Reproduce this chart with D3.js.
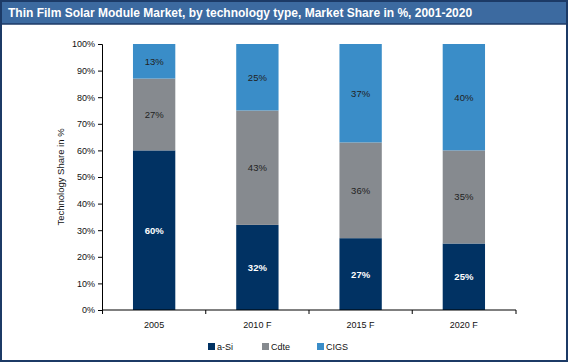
<!DOCTYPE html>
<html><head><meta charset="utf-8">
<script src="https://cdn.jsdelivr.net/npm/d3@7"></script>
<style>
  body { margin: 0; background: #fff; }
  svg { display: block; font-family: Arial, "Liberation Sans", sans-serif; }
</style>
</head>
<body>
<svg id="chart" width="568" height="362"></svg>
<script>
// data
var years = ["2005", "2010 F", "2015 F", "2020 F"];
var techs = ["a-Si", "Cdte", "CIGS"];
var aSi  = [60, 32, 27, 25];
var cdte = [27, 43, 36, 35];
var cigs = [13, 25, 37, 40];
var yTicks = [0, 10, 20, 30, 40, 50, 60, 70, 80, 90, 100];
var colors = ["#013263", "#868a8f", "#3a8dc8"];

var rows = years.map(function(y, i) {
  return {year: y, "a-Si": aSi[i], "Cdte": cdte[i], "CIGS": cigs[i]};
});

var svg = d3.select("#chart");
var W = 568, H = 362;

// frame + title bar
svg.append("rect").attr("x", 0).attr("y", 0).attr("width", W).attr("height", H).attr("fill", "#fff");
svg.append("rect").attr("x", 0).attr("y", 0).attr("width", W).attr("height", 24).attr("fill", "#3c6aa0");
svg.append("rect").attr("x", 1).attr("y", 1).attr("width", W - 2).attr("height", H - 2)
  .attr("fill", "none").attr("stroke", "#1c3a66").attr("stroke-width", 2);
svg.append("line").attr("x1", 0).attr("x2", W).attr("y1", 24).attr("y2", 24)
  .attr("stroke", "#1c3a66").attr("stroke-width", 1.5);
svg.append("text").attr("x", 8).attr("y", 16.5)
  .attr("fill", "#fff").attr("font-size", 12).attr("font-weight", "bold")
  .text("Thin Film Solar Module Market, by technology type, Market Share in %, 2001-2020");

// scales
var x = d3.scaleBand().domain(years).range([102, 516]).paddingInner(0.59).paddingOuter(0.3);
var y = d3.scaleLinear().domain([0, 100]).range([310, 44]);

var stack = d3.stack().keys(techs)(rows);

var g = svg.append("g");
stack.forEach(function(layer, li) {
  g.selectAll(".bar-" + li).data(layer).enter().append("rect")
    .attr("x", function(d) { return x(d.data.year); })
    .attr("width", x.bandwidth())
    .attr("y", function(d) { return y(d[1]); })
    .attr("height", function(d) { return y(d[0]) - y(d[1]); })
    .attr("fill", colors[li]);
  g.selectAll(".lab-" + li).data(layer).enter().append("text")
    .attr("x", function(d) { return x(d.data.year) + x.bandwidth() / 2; })
    .attr("y", function(d) { return (y(d[0]) + y(d[1])) / 2 + 3.5; })
    .attr("text-anchor", "middle")
    .attr("font-size", 9.5)
    .attr("font-weight", li === 0 ? "bold" : "normal")
    .attr("fill", li === 0 ? "#fff" : "#222")
    .text(function(d) { return (d[1] - d[0]) + "%"; });
});

// y axis
var yAxis = d3.axisLeft(y).tickValues(yTicks).tickSize(4).tickFormat(function(d) { return d + "%"; });
var ya = svg.append("g").attr("transform", "translate(102,0)").call(yAxis);
ya.select(".domain").attr("stroke", "#000");
ya.selectAll("text").attr("font-size", 9).attr("fill", "#111").attr("font-family", "Arial, 'Liberation Sans', sans-serif");

// x axis with separators between categories
var xa = svg.append("g").attr("transform", "translate(0,310)");
xa.append("line").attr("x1", 102).attr("x2", 516).attr("stroke", "#000");
var step = x.step();
var bounds = years.map(function(d) { return x(d) + x.bandwidth() / 2 - step / 2; }).concat([516]);
xa.selectAll(".sep").data(bounds).enter().append("line")
  .attr("x1", function(d) { return d; }).attr("x2", function(d) { return d; })
  .attr("y1", 0).attr("y2", 4).attr("stroke", "#000");
xa.selectAll(".xl").data(years).enter().append("text")
  .attr("x", function(d) { return x(d) + x.bandwidth() / 2; })
  .attr("y", 18).attr("text-anchor", "middle").attr("font-size", 9).attr("fill", "#111")
  .text(function(d) { return d; });

// y title
svg.append("text").attr("transform", "translate(64,177) rotate(-90)")
  .attr("text-anchor", "middle").attr("font-size", 9.5).attr("fill", "#111")
  .text("Technology Share in %");

// legend
var legX = [208, 262, 317];
var leg = svg.selectAll(".leg").data(techs).enter().append("g")
  .attr("transform", function(d, i) { return "translate(" + legX[i] + ",343)"; });
leg.append("rect").attr("width", 7).attr("height", 7).attr("fill", function(d, i) { return colors[i]; });
leg.append("text").attr("x", 9).attr("y", 7).attr("font-size", 9).attr("fill", "#111")
  .text(function(d) { return d; });
</script>
</body></html>
